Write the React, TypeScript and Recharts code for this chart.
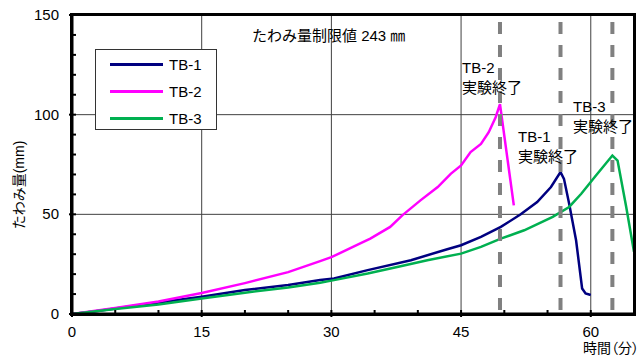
import { LineChart, Line, XAxis, YAxis, ReferenceLine } from 'recharts';

// elapsed time (min) and deflection (mm)
const tb1Time = [0, 2.5, 5, 10, 15, 20, 25, 28.7, 30.3, 34.2, 39.2, 43.4, 45, 47.3, 49.6, 51.9, 53.8, 55.4, 56.5, 56.9, 57.5, 58.3, 59, 59.4, 60];
const tb1Value = [0, 1.2, 2.8, 5.8, 8.7, 12, 14.5, 17, 17.8, 22, 27, 32.5, 34.5, 38.7, 43.7, 50, 56.2, 63.7, 71.2, 67.8, 55.3, 37, 12.8, 10.3, 9.5];

const tb2Time = [0, 5, 10, 15, 20, 25, 28.7, 30, 33.4, 34.5, 36.8, 38.2, 40.3, 42.3, 43.8, 45, 46.1, 47.3, 48.2, 49, 49.5, 51.1];
const tb2Value = [0, 3, 6.3, 10.5, 15.5, 21, 26.5, 28.5, 35.5, 37.8, 43.7, 49.5, 57, 63.7, 70.3, 74.5, 81.2, 85.3, 91.2, 98.7, 105.3, 54.5];

const tb3Time = [0, 5, 10, 15, 20, 25, 28.7, 30.3, 34.2, 38, 41.1, 45, 47.3, 49.6, 52.3, 55.6, 57.5, 58.9, 60.6, 62.5, 63.1, 64.1, 65];
const tb3Value = [0, 2.5, 4.8, 7.8, 10.7, 13.3, 15.7, 17, 20.3, 24, 27, 30.3, 33.7, 37.8, 42, 48.7, 53.7, 60.3, 69.5, 79.5, 77, 53.7, 31.2];

const seriesNames = ['TB-1', 'TB-2', 'TB-3'];
const seriesColors = ['#000080', '#ff00ff', '#00b050'];

const xTicks = [0, 5, 10, 15, 20, 25, 30, 35, 40, 45, 50, 55, 60];
const yTicks = [0, 10, 20, 30, 40, 50, 60, 70, 80, 90, 100, 110, 120, 130, 140, 150];
const xGrid = [15, 30, 45, 60];
const yGrid = [50, 100];
const endTimes = [49.5, 56.5, 62.5];

const toData = (t: number[], v: number[]) => t.map((x, i) => ({ t: x, v: v[i] }));
const seriesData = [toData(tb1Time, tb1Value), toData(tb2Time, tb2Value), toData(tb3Time, tb3Value)];

const font = "'Liberation Sans', 'Noto Sans CJK JP', sans-serif";

const XTick = (props: any) => {
  const { x, y, payload } = props;
  const major = payload.value % 15 === 0;
  return (
    <g>
      <line x1={x} x2={x} y1={y - 4} y2={major ? y + 3 : y} stroke="#000" strokeWidth={2} />
      {major && (
        <text x={x} y={y + 23} textAnchor="middle" fontSize={15} fontFamily={font} fill="#000">
          {payload.value}
        </text>
      )}
    </g>
  );
};

const YTick = (props: any) => {
  const { x, y, payload } = props;
  const major = payload.value % 50 === 0;
  return (
    <g>
      <line x1={major ? x - 3 : x} x2={x + 4} y1={y} y2={y} stroke="#000" strokeWidth={2} />
      {major && (
        <text x={x - 13} y={y + 5} textAnchor="end" fontSize={15} fontFamily={font} fill="#000">
          {payload.value}
        </text>
      )}
    </g>
  );
};

const notes = [
  { label: 'TB-2', left: 462, top: 58 },
  { label: 'TB-1', left: 518, top: 127 },
  { label: 'TB-3', left: 573, top: 97 },
];

export default function App() {
  return (
    <div style={{ position: 'absolute', left: 0, top: 0, width: 644, height: 358, background: '#fff', fontFamily: font }}>
      <LineChart width={644} height={358} margin={{ top: 15, right: 10, bottom: 14, left: 12 }}>
        <XAxis
          dataKey="t"
          type="number"
          domain={[0, 65]}
          ticks={xTicks}
          interval={0}
          tick={<XTick />}
          tickSize={0}
          tickMargin={0}
          tickLine={false}
          height={30}
          axisLine={{ stroke: '#000', strokeWidth: 3 }}
          allowDataOverflow
        />
        <YAxis
          type="number"
          domain={[0, 150]}
          ticks={yTicks}
          interval={0}
          tick={<YTick />}
          tickSize={0}
          tickMargin={0}
          tickLine={false}
          width={60}
          axisLine={{ stroke: '#000', strokeWidth: 3 }}
          allowDataOverflow
        />
        {xGrid.map((g) => (
          <ReferenceLine key={'gx' + g} x={g} stroke="#404040" strokeWidth={1} />
        ))}
        {yGrid.map((g) => (
          <ReferenceLine key={'gy' + g} y={g} stroke="#404040" strokeWidth={1} />
        ))}
        {seriesNames.map((name, i) => (
          <Line
            key={name}
            data={seriesData[i]}
            dataKey="v"
            name={name}
            type="linear"
            stroke={seriesColors[i]}
            strokeWidth={2.5}
            dot={false}
            isAnimationActive={false}
          />
        ))}
        {endTimes.map((e) => (
          <ReferenceLine
            key={'end' + e}
            segment={[{ x: e, y: 146.5 }, { x: e, y: 0 }]}
            stroke="#808080"
            strokeWidth={4}
            strokeDasharray="12 11"
          />
        ))}
      </LineChart>

      {/* plot frame */}
      <div
        style={{
          position: 'absolute',
          left: 70,
          top: 13,
          width: 566,
          height: 303,
          border: '3px solid #000',
          boxSizing: 'border-box',
          pointerEvents: 'none',
        }}
      />

      {/* legend box */}
      <div
        style={{
          position: 'absolute',
          left: 95,
          top: 49,
          width: 122,
          height: 81,
          border: '1px solid #333',
          background: '#fff',
          boxSizing: 'border-box',
        }}
      >
        {seriesNames.map((name, i) => (
          <div key={name} style={{ position: 'absolute', left: 14, top: 5 + i * 27, height: 18, display: 'flex', alignItems: 'center' }}>
            <div style={{ width: 53, height: 3, background: seriesColors[i] }} />
            <span style={{ marginLeft: 6, fontSize: 15, color: '#000' }}>{name}</span>
          </div>
        ))}
      </div>

      <div style={{ position: 'absolute', left: 252, top: 26, fontSize: 15, lineHeight: '20px', color: '#000', whiteSpace: 'nowrap' }}>
        たわみ量制限値 243 ㎜
      </div>

      {notes.map((n) => (
        <div
          key={n.label}
          style={{ position: 'absolute', left: n.left, top: n.top, fontSize: 15, lineHeight: '20px', color: '#000', whiteSpace: 'nowrap' }}
        >
          {n.label}
          <br />
          実験終了
        </div>
      ))}

      <div
        style={{
          position: 'absolute',
          left: 18,
          top: 185,
          transform: 'translate(-50%, -50%) rotate(-90deg)',
          fontSize: 14,
          whiteSpace: 'nowrap',
          color: '#000',
        }}
      >
        たわみ量(mm)
      </div>

      <div
        style={{
          position: 'absolute',
          left: 583,
          top: 338,
          fontSize: 14,
          lineHeight: '20px',
          fontFeatureSettings: '"palt"',
          whiteSpace: 'nowrap',
          color: '#000',
        }}
      >
        時間（分）
      </div>
    </div>
  );
}
